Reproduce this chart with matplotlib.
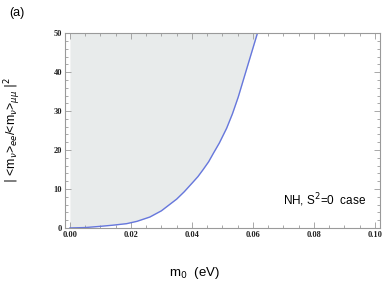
import matplotlib
matplotlib.use("Agg")
import matplotlib.pyplot as plt
from matplotlib.ticker import MultipleLocator

# values
m0 = [0.0, 0.005, 0.0098, 0.014, 0.0186, 0.022, 0.0262, 0.030, 0.0325, 0.035,
      0.0375, 0.0404, 0.042, 0.0437, 0.0455, 0.0470, 0.049, 0.0514, 0.0533,
      0.0552, 0.057, 0.0585, 0.060, 0.0615]
ratio2 = [0.0, 0.1, 0.4, 0.7, 1.1, 1.7, 2.8, 4.4, 5.9, 7.4,
          9.3, 11.8, 13.2, 15.0, 17.0, 19.1, 21.8, 25.6, 29.3,
          33.6, 38.3, 42.2, 46.1, 50.0]

xticks = [0.0, 0.02, 0.04, 0.06, 0.08, 0.10]
yticks = [0, 10, 20, 30, 40, 50]

fig = plt.figure(figsize=(3.85, 2.86), dpi=100)
ax = fig.add_axes([0.169, 0.203, 0.818, 0.681])

frame = "#9a9a9a"
ax.fill_between(m0, ratio2, 50, color="#e8ebeb", lw=0)
ax.plot(m0, ratio2, color="#6677dd", lw=1.0)

ax.set_xlim(-0.0016, 0.1017)
ax.set_ylim(0, 50)
ax.set_xticks(xticks)
ax.set_xticklabels([f"{v:.2f}" for v in xticks])
ax.set_yticks(yticks)
ax.xaxis.set_minor_locator(MultipleLocator(0.005))
ax.yaxis.set_minor_locator(MultipleLocator(2))
ax.tick_params(which="both", direction="in", top=True, right=True,
               color=frame, width=0.6)
ax.tick_params(which="major", length=4, labelsize=6, pad=2, labelcolor="#222222")
ax.tick_params(which="minor", length=2)
for lbl in ax.get_xticklabels() + ax.get_yticklabels():
    lbl.set_family("Liberation Serif")
    lbl.set_fontweight("bold")
for s in ax.spines.values():
    s.set_color(frame)
    s.set_linewidth(0.8)

ax.text(0.955, 0.145, "NH, S$^2$=0  case", transform=ax.transAxes,
        ha="right", va="center", fontsize=8.5, family="Liberation Sans")

fig.text(0.025, 0.955, "(a)", fontsize=9, family="Liberation Sans",
         ha="left", va="center")
fig.text(0.505, 0.045, "m$_0$  (eV)", fontsize=9.5, family="Liberation Sans",
         ha="center", va="center")
fig.text(0.032, 0.545,
         r"$|$ <m$_\nu$>$_{ee}$/<m$_\nu$>$_{\mu\mu}$ $|^2$",
         fontsize=8.8, family="Liberation Sans", rotation=90,
         ha="center", va="center")

fig.savefig("out.png", dpi=100)
